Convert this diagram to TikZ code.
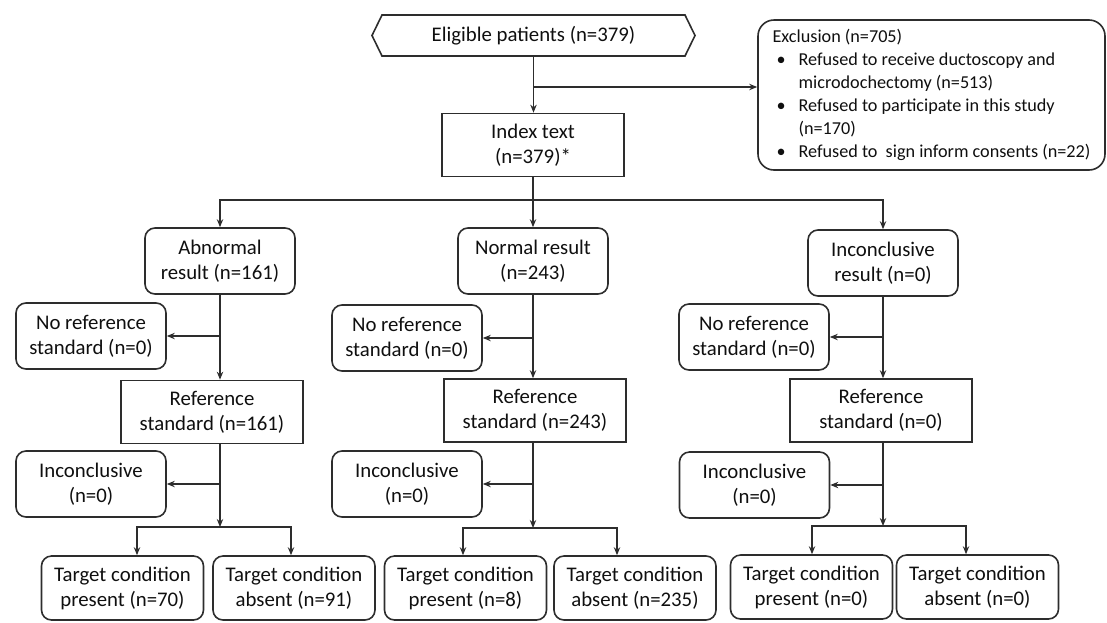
\documentclass[tikz,border=0pt]{standalone}
\usepackage{fontspec}
\setmainfont{Carlito}
\usetikzlibrary{shapes.symbols, arrows.meta, positioning, calc}
\definecolor{linegray}{RGB}{45,45,45}
\definecolor{textblack}{RGB}{15,15,15}

\begin{document}
\begin{tikzpicture}[
        x=0.5pt, y=-0.5pt,
        every node/.style={font=\fontsize{10.4}{12.5}\selectfont, text=textblack},
        sqbox/.style={rectangle, draw=linegray, line width=0.8pt, minimum width=91pt, minimum height=31.5pt, align=center, inner sep=1pt},
        rbox/.style={rectangle, draw=linegray, line width=0.8pt, rounded corners=5pt, minimum width=75pt, minimum height=33pt, align=center, inner sep=1pt},
        tgtbox/.style={rbox, minimum width=81pt, minimum height=32pt},
        startbox/.style={signal, signal to=west and east, signal pointer angle=128, draw=linegray, line width=0.8pt, minimum width=161.5pt, minimum height=20.5pt, inner sep=1pt},
        exbox/.style={rectangle, draw=linegray, line width=0.8pt, rounded corners=8pt, minimum width=173.5pt, minimum height=75pt, inner sep=2pt, align=left, font=\fontsize{9.1}{11.5}\selectfont},
        arr/.style={-{Stealth[length=4pt,width=3.2pt]}, draw=linegray, line width=0.6pt},
        link/.style={draw=linegray, line width=0.6pt}
    ]
        \useasboundingbox (0,0) rectangle (1107,622);

        % top part
        \node[startbox] (elig) at (533.5,35.5) {Eligible patients (n=379)};
        \node[sqbox] (index) at (533,145) {Index text\\(n=379)*};
        \node[exbox] (excl) at (931.5,95) {Exclusion (n=705)\\
            \makebox[13pt][l]{\hspace{2pt}\textbullet}Refused to receive ductoscopy and\\
            \hspace*{13pt}microdochectomy (n=513)\\
            \makebox[13pt][l]{\hspace{2pt}\textbullet}Refused to participate in this study\\
            \hspace*{13pt}(n=170)\\
            \makebox[13pt][l]{\hspace{2pt}\textbullet}Refused to\ \ sign inform consents (n=22)};

        % index test results
        \node[rbox] (abres) at (220,261) {Abnormal\\result (n=161)};
        \node[rbox] (normres) at (533,261) {Normal result\\(n=243)};
        \node[rbox] (incres) at (883,263) {Inconclusive\\result (n=0)};

        % no reference standard
        \node[rbox] (noref1) at (91,336) {No reference\\standard (n=0)};
        \node[rbox] (noref2) at (407,338) {No reference\\standard (n=0)};
        \node[rbox] (noref3) at (754,337) {No reference\\standard (n=0)};

        % reference standard
        \node[sqbox] (ref1) at (212,412) {Reference\\standard (n=161)};
        \node[sqbox] (ref2) at (535,410.5) {Reference\\standard (n=243)};
        \node[sqbox] (ref3) at (881,410.5) {Reference\\standard (n=0)};

        % inconclusive
        \node[rbox] (inc1) at (91,484) {Inconclusive\\(n=0)};
        \node[rbox] (inc2) at (407,484) {Inconclusive\\(n=0)};
        \node[rbox] (inc3) at (754.5,485) {Inconclusive\\(n=0)};

        % target condition
        \node[tgtbox] (tp1) at (122.5,588) {Target condition\\present (n=70)};
        \node[tgtbox] (ta1) at (294,588) {Target condition\\absent (n=91)};
        \node[tgtbox] (tp2) at (465.5,588) {Target condition\\present (n=8)};
        \node[tgtbox] (ta2) at (635,588) {Target condition\\absent (n=235)};
        \node[tgtbox] (tp3) at (811.5,587) {Target condition\\present (n=0)};
        \node[tgtbox] (ta3) at (977.5,587) {Target condition\\absent (n=0)};

        % connectors, top
        \coordinate (split) at (elig.south |- 0,87);
        \coordinate (bus) at (index.south |- 0,200);
        \draw[arr] (elig.south) -- (elig.south |- index.north);
        \draw[arr] (split) -- (split -| excl.west);
        \draw[link] (index.south) -- (bus);
        \draw[arr] (bus) -| (abres.north);
        \draw[arr] (bus) -- (normres.north);
        \draw[arr] (bus) -| (incres.north);

        % column 1
        \coordinate (bus1) at (220,527);
        \draw[arr] (abres.south) -- (abres.south |- ref1.north);
        \draw[arr] (abres.south |- noref1.east) -- (noref1.east);
        \draw[arr] (ref1.south -| bus1) -- (bus1);
        \draw[arr] (bus1 |- inc1.east) -- (inc1.east);
        \draw[arr] (bus1) -| ($(tp1.north)+(14.5,0)$);
        \draw[arr] (bus1) -| ($(ta1.north)+(-3,0)$);

        % column 2
        \coordinate (bus2) at (533,528);
        \draw[arr] (normres.south) -- (normres.south |- ref2.north);
        \draw[arr] (normres.south |- noref2.east) -- (noref2.east);
        \draw[arr] (ref2.south -| bus2) -- (bus2);
        \draw[arr] (bus2 |- inc2.east) -- (inc2.east);
        \draw[arr] (bus2) -| ($(tp2.north)+(-2.5,0)$);
        \draw[arr] (bus2) -| ($(ta2.north)+(-18,0)$);

        % column 3
        \coordinate (bus3) at (883,526);
        \draw[arr] (incres.south) -- (incres.south |- ref3.north);
        \draw[arr] (incres.south |- noref3.east) -- (noref3.east);
        \draw[arr] (ref3.south -| bus3) -- (bus3);
        \draw[arr] (bus3 |- inc3.east) -- (inc3.east);
        \draw[arr] (bus3) -| ($(tp3.north)+(0.5,0)$);
        \draw[arr] (bus3) -| ($(ta3.north)+(-11.5,0)$);
    \end{tikzpicture}
\end{document}
